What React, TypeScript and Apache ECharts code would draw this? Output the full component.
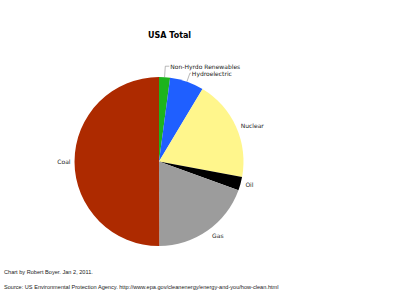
import React, { useEffect, useRef } from "react";
import * as echarts from "echarts";

const categories = ["Non-Hyrdo Renewables", "Hydroelectric", "Nuclear", "Oil", "Gas", "Coal"];
const values = [2.1, 6.5, 19.3, 2.6, 19.4, 50.0];
const colors = ["#1db41d", "#1f5fff", "#fff68c", "#000000", "#9c9c9c", "#ad2a00"];
const lineLens = [11, 9, 4, 4, 6, 3];
const lineLens2 = [4, 1, 0, 0, 0, 0];
const showLines = [true, true, false, false, false, false];

const footer1 = "Chart by Robert Boyer. Jan 2, 2011.";
const footer2 = "Source: US Environmental Protection Agency. http://www.epa.gov/cleanenergy/energy-and-you/how-clean.html";

export default function App() {
  const ref = useRef<HTMLDivElement>(null);
  useEffect(() => {
    document.body.style.margin = "0";
    const chart = echarts.init(ref.current!, null, { renderer: "svg" });
    chart.setOption({
      animation: false,
      backgroundColor: "#ffffff",
      title: {
        text: "USA Total",
        left: 148,
        top: 31,
        padding: 0,
        textStyle: { fontFamily: "DejaVu Sans", fontSize: 8, fontWeight: "bold", color: "#000" },
      },
      graphic: [
        {
          type: "text",
          left: 4,
          top: 269,
          style: { text: footer1, font: "5.6px 'Liberation Sans'", fill: "#222" },
        },
        {
          type: "text",
          left: 4,
          top: 284,
          style: { text: footer2, font: "5.6px 'Liberation Sans'", fill: "#222" },
        },
      ],
      series: [
        {
          type: "pie",
          center: [159, 161.5],
          radius: 84.5,
          startAngle: 90,
          clockwise: true,
          avoidLabelOverlap: false,
          minShowLabelAngle: 0,
          itemStyle: { borderWidth: 0 },
          emphasis: { disabled: true },
          label: {
            show: true,
            position: "outside",
            fontFamily: "DejaVu Sans",
            fontSize: 6,
            color: "#222",
            distanceToLabelLine: 1,
          },
          data: categories.map((name, i) => ({
            name,
            value: values[i],
            itemStyle: { color: colors[i] },
            labelLine: {
              show: showLines[i],
              length: lineLens[i],
              length2: lineLens2[i],
              smooth: false,
              lineStyle: { color: "#888", width: 0.6 },
            },
          })),
        },
      ],
    });
    return () => chart.dispose();
  }, []);
  return <div ref={ref} style={{ width: 400, height: 300 }} />;
}
